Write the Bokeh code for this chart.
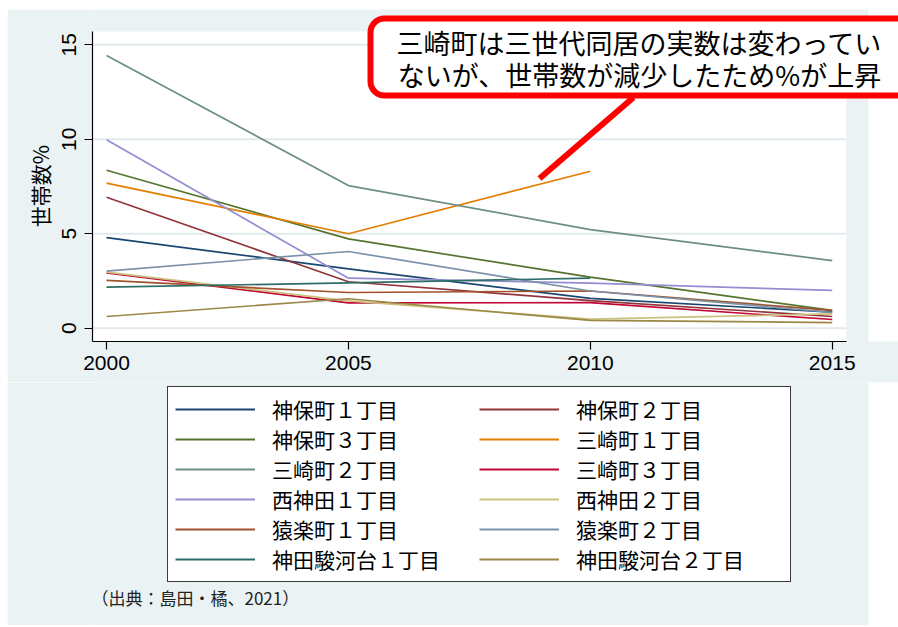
from bokeh.plotting import figure
from bokeh.layouts import column
from bokeh.models import (Range1d, FixedTicker, BoxAnnotation, Label, Legend,
                          LegendItem, ColumnDataSource)
from bokeh.core.properties import value
from bokeh.embed import file_html
from bokeh.resources import INLINE

NaN = float("nan")

# ---- data ----
years = [2000, 2005, 2010, 2015]
y_ticks = [0, 5, 10, 15]

names = ["神保町１丁目", "神保町２丁目", "神保町３丁目", "三崎町１丁目",
         "三崎町２丁目", "三崎町３丁目", "西神田１丁目", "西神田２丁目",
         "猿楽町１丁目", "猿楽町２丁目", "神田駿河台１丁目", "神田駿河台２丁目"]

jimbocho_1 = [4.79, 3.14, 1.58, 0.85]
jimbocho_2 = [6.93, 2.46, 1.46, 0.62]
jimbocho_3 = [8.36, 4.73, 2.70, 0.94]
misaki_1 = [7.68, 5.00, 8.31, NaN]
misaki_2 = [14.44, 7.55, 5.22, 3.58]
misaki_3 = [2.93, 1.34, 1.35, 0.46]
nishikanda_1 = [9.97, 2.65, 2.39, 2.00]
nishikanda_2 = [2.97, 1.45, 0.48, 0.76]
sarugaku_1 = [2.53, 1.89, 1.97, 0.94]
sarugaku_2 = [3.02, 4.06, 1.97, 0.83]
surugadai_1 = [2.17, 2.40, 2.65, NaN]
surugadai_2 = [0.62, 1.56, 0.41, 0.30]

series = [jimbocho_1, jimbocho_2, jimbocho_3, misaki_1, misaki_2, misaki_3,
          nishikanda_1, nishikanda_2, sarugaku_1, sarugaku_2, surugadai_1, surugadai_2]

colors = ["#1A476F", "#90353B", "#55752F", "#E37E00", "#6E8E84", "#C10534",
          "#938DD2", "#CAC27E", "#A0522D", "#7B92A8", "#2D6D66", "#9C8847"]

y_title = "世帯数%"
note_lines = ["三崎町は三世代同居の実数は変わってい", "ないが、世帯数が減少したため%が上昇"]
source_note = "（出典：島田・橘、2021）"

JP = "Noto Sans CJK JP"
LAT = "Liberation Sans"
BG = "#EAF2F3"

# plot region (white area with axes) and full frame ranges
PX0, PX1 = 1999.71, 2015.29
PY0, PY1 = -0.704, 15.70
FX1, FY1 = 2016.37, 16.87

# ---------------- main chart ----------------
p = figure(width=891, height=373, output_backend="svg", toolbar_location=None,
           title=None, x_range=Range1d(PX0, FX1), y_range=Range1d(PY0, FY1),
           min_border_left=85, min_border_right=0, min_border_top=0,
           min_border_bottom=41, border_fill_color=BG,
           background_fill_color=BG, outline_line_color=None)

# white plot region, and white page area right of the graph region
p.add_layout(BoxAnnotation(left=PX0, right=PX1, bottom=PY0, top=PY1,
                           fill_color="white", fill_alpha=1.0,
                           line_color=None, level="image"))
p.add_layout(BoxAnnotation(left=861, right=900, top=-10, bottom=400,
                           left_units="canvas", right_units="canvas",
                           top_units="canvas", bottom_units="canvas",
                           fill_color="white", fill_alpha=1.0,
                           line_color=None, level="image"))

p.xaxis.ticker = FixedTicker(ticks=years)
p.yaxis.ticker = FixedTicker(ticks=y_ticks)
p.xaxis.bounds = (PX0, PX1)
p.yaxis.bounds = (PY0, PY1)
for ax in (p.xaxis[0], p.yaxis[0]):
    ax.axis_line_color = "black"
    ax.axis_line_width = 1.2
    ax.major_tick_line_color = "black"
    ax.major_tick_line_width = 1.2
    ax.major_tick_out = 8
    ax.major_tick_in = 0
    ax.minor_tick_line_color = None
    ax.major_label_text_font = LAT
    ax.major_label_text_font_size = "21px"
    ax.major_label_text_color = "black"
p.xaxis.major_label_standoff = 6
p.yaxis.major_label_standoff = 8
p.yaxis.major_label_orientation = "vertical"
# trailing ideographic space centres the title on the plot region
p.yaxis.axis_label = y_title + "\u3000"
p.yaxis.axis_label_text_font = JP
p.yaxis.axis_label_text_font_size = "21px"
p.yaxis.axis_label_text_font_style = "normal"
p.yaxis.axis_label_text_color = "black"
p.yaxis.axis_label_standoff = 5

p.xgrid.visible = False
p.ygrid.visible = False
grid_src = ColumnDataSource(dict(y=y_ticks))
p.segment(x0=PX0, x1=PX1, y0="y", y1="y", source=grid_src,
          line_color="#E2EAEE", line_width=2)

for vals, col in zip(series, colors):
    src = ColumnDataSource(dict(x=years, y=vals))
    p.line("x", "y", source=src, line_color=col, line_width=1.7)

# pointer line to the annotation box
p.segment(x0=[2008.95], y0=[7.92], x1=[2010.89], y1=[12.21],
          line_color="#FF0000", line_width=6)

p.add_layout(BoxAnnotation(left=363, right=960, top=9, bottom=86,
                           left_units="canvas", right_units="canvas",
                           top_units="canvas", bottom_units="canvas",
                           fill_color="white", fill_alpha=1.0,
                           line_color="#FF0000", line_alpha=1.0, line_width=6,
                           border_radius=14, level="overlay"))
for txt, yy in zip(note_lines, [33, 65]):
    p.add_layout(Label(x=632, y=yy, x_units="canvas", y_units="canvas",
                       text=txt, text_align="center", text_baseline="middle",
                       text_font=JP, text_font_size="27px", text_color="black",
                       level="overlay"))

# ---------------- legend panel ----------------
q = figure(width=891, height=243, output_backend="svg", toolbar_location=None,
           title=None, x_range=Range1d(0, 1), y_range=Range1d(0, 1),
           x_axis_type=None, y_axis_type=None,
           min_border_left=0, min_border_right=0, min_border_top=0,
           min_border_bottom=0, border_fill_color=BG,
           background_fill_color=BG, outline_line_color=None)
q.xgrid.visible = False
q.ygrid.visible = False
q.add_layout(BoxAnnotation(left=861, right=900, top=-10, bottom=300,
                           left_units="canvas", right_units="canvas",
                           top_units="canvas", bottom_units="canvas",
                           fill_color="white", fill_alpha=1.0,
                           line_color=None, level="image"))

items = []
for name, vals, col in zip(names, series, colors):
    # same series, outside this panel's view: only the legend sample shows
    src = ColumnDataSource(dict(x=years, y=vals))
    r = q.line("x", "y", source=src, line_color=col, line_width=2)
    items.append(LegendItem(label=value(name), renderers=[r]))

legend = Legend(items=items, ncols=2, orientation="horizontal",
                location=(75, 43), margin=0, padding=7, spacing=0,
                glyph_width=80, glyph_height=30, label_height=30,
                label_width=207, label_standoff=17,
                label_text_font=JP, label_text_font_size="21px",
                label_text_color="black", border_line_color="#3a3a3a",
                border_line_width=1, border_line_alpha=1.0,
                background_fill_color="white", background_fill_alpha=1.0)
q.add_layout(legend, "center")

q.add_layout(Label(x=84, y=215, x_units="canvas", y_units="canvas",
                   text=source_note, text_align="left", text_baseline="middle",
                   text_font=JP, text_font_size="17px", text_color="#222222"))

layout = column(p, q, margin=(9, 0, 0, 7), spacing=0)
open("out.html", "w").write(file_html(layout, INLINE))
